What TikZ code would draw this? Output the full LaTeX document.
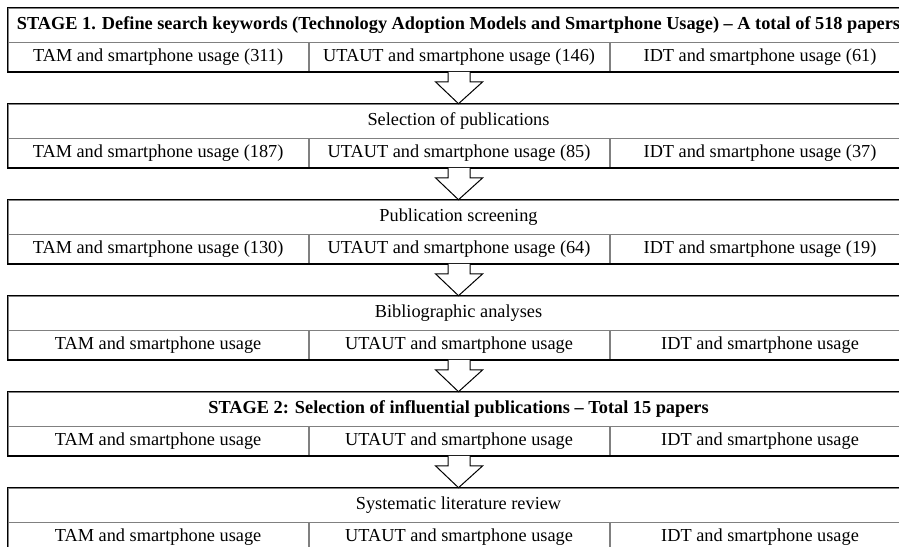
\documentclass[tikz,border=0pt]{standalone}
\usepackage{fontspec}
\setmainfont{Liberation Serif}
\usetikzlibrary{calc}

\begin{document}
\begin{tikzpicture}[x=1pt,y=-1pt,
    head/.style={draw=gray,line width=0.6pt,minimum width=901pt,minimum height=34pt,inner sep=2pt,font=\fontsize{18.3}{20}\selectfont},
    cell/.style={draw=gray,line width=0.6pt,minimum width=300.33pt,minimum height=29pt,inner sep=2pt,font=\fontsize{18.3}{20}\selectfont},
    frame/.style={black,line width=1.3pt},
    flow/.style={draw=black,fill=white,line width=1pt,line join=miter}]
            \useasboundingbox (0,0) rectangle (899,546);
            \clip (0,0) rectangle (899,546);

            % stage 1
            \node[head] (h1) at (458.5,25) {\textbf{STAGE 1. Define search keywords (Technology Adoption Models and Smartphone Usage) -- A total of 518 papers}};
            \node[cell,anchor=north west] (tam1) at (h1.south west) {TAM and smartphone usage (311)};
            \node[cell,anchor=west] (utaut1) at (tam1.east) {UTAUT and smartphone usage (146)};
            \node[cell,anchor=west] (idt1) at (utaut1.east) {IDT and smartphone usage (61)};
            \draw[frame] (h1.north west) rectangle (idt1.south east);

            % selection
            \node[head] (h2) at (458.5,121) {Selection of publications};
            \node[cell,anchor=north west] (tam2) at (h2.south west) {TAM and smartphone usage (187)};
            \node[cell,anchor=west] (utaut2) at (tam2.east) {UTAUT and smartphone usage (85)};
            \node[cell,anchor=west] (idt2) at (utaut2.east) {IDT and smartphone usage (37)};
            \draw[frame] (h2.north west) rectangle (idt2.south east);

            % screening
            \node[head] (h3) at (458.5,217) {Publication screening};
            \node[cell,anchor=north west] (tam3) at (h3.south west) {TAM and smartphone usage (130)};
            \node[cell,anchor=west] (utaut3) at (tam3.east) {UTAUT and smartphone usage (64)};
            \node[cell,anchor=west] (idt3) at (utaut3.east) {IDT and smartphone usage (19)};
            \draw[frame] (h3.north west) rectangle (idt3.south east);

            % bibliographic
            \node[head] (h4) at (458.5,313) {Bibliographic analyses};
            \node[cell,anchor=north west] (tam4) at (h4.south west) {TAM and smartphone usage};
            \node[cell,anchor=west] (utaut4) at (tam4.east) {UTAUT and smartphone usage};
            \node[cell,anchor=west] (idt4) at (utaut4.east) {IDT and smartphone usage};
            \draw[frame] (h4.north west) rectangle (idt4.south east);

            % stage 2
            \node[head] (h5) at (458.5,409) {\textbf{STAGE 2: Selection of influential publications -- Total 15 papers}};
            \node[cell,anchor=north west] (tam5) at (h5.south west) {TAM and smartphone usage};
            \node[cell,anchor=west] (utaut5) at (tam5.east) {UTAUT and smartphone usage};
            \node[cell,anchor=west] (idt5) at (utaut5.east) {IDT and smartphone usage};
            \draw[frame] (h5.north west) rectangle (idt5.south east);

            % review
            \node[head] (h6) at (458.5,505) {Systematic literature review};
            \node[cell,anchor=north west] (tam6) at (h6.south west) {TAM and smartphone usage};
            \node[cell,anchor=west] (utaut6) at (tam6.east) {UTAUT and smartphone usage};
            \node[cell,anchor=west] (idt6) at (utaut6.east) {IDT and smartphone usage};
            \draw[frame] (h6.north west) rectangle (idt6.south east);

            % arrows
            \draw[flow] ($(utaut1.south)+(-11,0)$) -- ++(0,10) -- ++(-12.5,0) -- (h2.north) -- ($(utaut1.south)+(23.5,10)$) -- ++(-12.5,0) -- ++(0,-10);
            \draw[flow] ($(utaut2.south)+(-11,0)$) -- ++(0,10) -- ++(-12.5,0) -- (h3.north) -- ($(utaut2.south)+(23.5,10)$) -- ++(-12.5,0) -- ++(0,-10);
            \draw[flow] ($(utaut3.south)+(-11,0)$) -- ++(0,10) -- ++(-12.5,0) -- (h4.north) -- ($(utaut3.south)+(23.5,10)$) -- ++(-12.5,0) -- ++(0,-10);
            \draw[flow] ($(utaut4.south)+(-11,0)$) -- ++(0,10) -- ++(-12.5,0) -- (h5.north) -- ($(utaut4.south)+(23.5,10)$) -- ++(-12.5,0) -- ++(0,-10);
            \draw[flow] ($(utaut5.south)+(-11,0)$) -- ++(0,10) -- ++(-12.5,0) -- (h6.north) -- ($(utaut5.south)+(23.5,10)$) -- ++(-12.5,0) -- ++(0,-10);
        \end{tikzpicture}
\end{document}
